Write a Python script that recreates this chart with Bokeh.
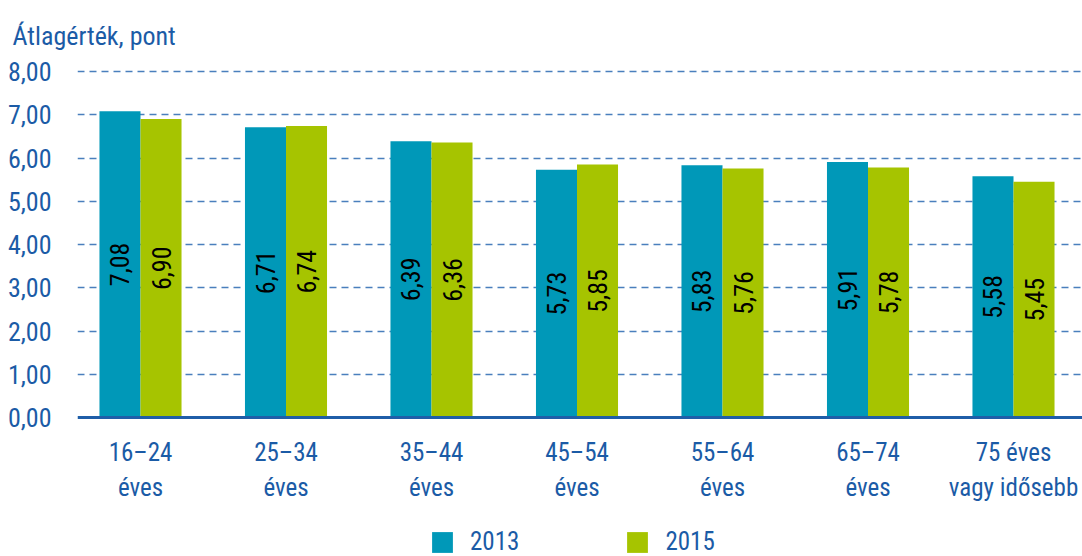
import math
from bokeh.plotting import figure
from bokeh.models import Range1d, FixedTicker, Legend, LegendItem, ColumnDataSource, Span
from bokeh.core.properties import value
from bokeh.embed import file_html
from bokeh.resources import INLINE

categories = ["16–24\néves", "25–34\néves", "35–44\néves", "45–54\néves",
              "55–64\néves", "65–74\néves", "75 éves\nvagy idősebb"]
s2013 = [7.08, 6.71, 6.39, 5.73, 5.83, 5.91, 5.58]
s2015 = [6.90, 6.74, 6.36, 5.85, 5.76, 5.78, 5.45]
series_names = ["2013", "2015"]
y_ticks = [0, 1, 2, 3, 4, 5, 6, 7, 8]
y_title = "Átlagérték, pont"

FONT = "Roboto Condensed"
BLUE_TXT = "#1b5ba6"
C13 = "#0098b8"
C15 = "#a6c400"

PX = 145.5   # pixels per category
PY = 43.25   # pixels per y unit
x0 = -63 / PX
x1 = x0 + (1082 - 77) / PX
y1 = 8 + 2 / PY
y0 = 8 - (556 - 71) / PY

p = figure(width=1082, height=556, output_backend="svg", toolbar_location=None,
           x_range=Range1d(x0, x1), y_range=Range1d(y0, y1),
           min_border_left=77, min_border_right=0, min_border_top=69,
           min_border_bottom=0, outline_line_color=None)

p.title.text = y_title
p.title.text_font = FONT
p.title.text_font_size = "26px"
p.title.text_font_style = "normal"
p.title.text_color = BLUE_TXT
p.title.offset = -65
p.title.standoff = 37

xs = list(range(len(categories)))
w = 0.282
src = ColumnDataSource(dict(
    x13=[x - w / 2 for x in xs], x15=[x + w / 2 for x in xs],
    y13=s2013, y15=s2015,
    h13=[v / 2 for v in s2013], h15=[v / 2 for v in s2015],
    l13=[f"{v:.2f}".replace(".", ",") for v in s2013],
    l15=[f"{v:.2f}".replace(".", ",") for v in s2015],
))
r13 = p.vbar(x="x13", top="y13", bottom=0, width=w, source=src, fill_color=C13, line_color=None)
r15 = p.vbar(x="x15", top="y15", bottom=0, width=w, source=src, fill_color=C15, line_color=None)

for xk, yk, lk in (("x13", "h13", "l13"), ("x15", "h15", "l15")):
    p.text(x=xk, y=yk, text=lk, source=src, angle=math.pi / 2,
           text_align="center", text_baseline="middle",
           text_font=value(FONT), text_font_size="26px", text_color="black")

# category labels under the baseline
cat_src = ColumnDataSource(dict(x=xs, y=[-0.48] * len(xs), t=categories))
p.text(x="x", y="y", text="t", source=cat_src, text_align="center", text_baseline="top",
       text_font=value(FONT), text_font_size="25px", text_color=BLUE_TXT,
       text_line_height=1.2)

# baseline
p.add_layout(Span(location=0, dimension="width", line_color="#1f5ea8", line_width=3))

# axes
p.yaxis.ticker = FixedTicker(ticks=y_ticks)
p.yaxis.major_label_overrides = {t: f"{t:.2f}".replace(".", ",") for t in y_ticks}
p.yaxis.axis_line_color = None
p.yaxis.major_tick_line_color = None
p.yaxis.minor_tick_line_color = None
p.yaxis.major_label_standoff = 20
p.yaxis.major_label_text_font = FONT
p.yaxis.major_label_text_font_size = "26px"
p.yaxis.major_label_text_color = BLUE_TXT
p.xaxis.visible = False

p.xgrid.grid_line_color = None
p.ygrid.ticker = FixedTicker(ticks=y_ticks[1:])
p.ygrid.grid_line_color = "#4a7fbd"
p.ygrid.grid_line_dash = "7 5"
p.ygrid.grid_line_width = 1.6

legend = Legend(items=[LegendItem(label=series_names[0], renderers=[r13]),
                       LegendItem(label=series_names[1], renderers=[r15])],
                orientation="horizontal", location=(352, 0),
                glyph_width=26, glyph_height=26, label_standoff=15, spacing=105,
                label_text_font=FONT, label_text_font_size="25px",
                label_text_color=BLUE_TXT, border_line_color=None,
                background_fill_alpha=0, padding=0, margin=0)
p.add_layout(legend, "center")

open("out.html", "w").write(file_html(p, INLINE))
